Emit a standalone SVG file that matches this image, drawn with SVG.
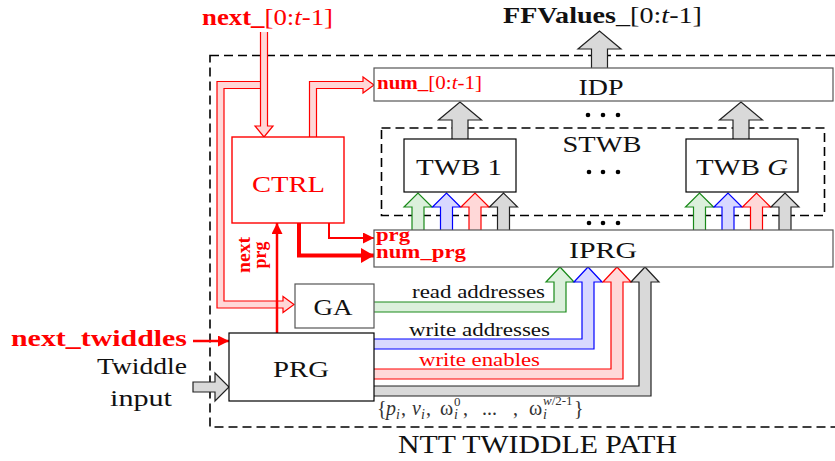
<svg xmlns="http://www.w3.org/2000/svg" width="835" height="461" viewBox="0 0 835 461">
  <style>
    text { font-family: "Liberation Serif", "Times New Roman", serif; fill: #111; }
    .lbl { font-size: 24px; text-anchor: middle; }
    .bus { font-size: 19px; }
    .red { fill: #ff0000; }
    .b { font-weight: bold; }
    .i { font-style: italic; }
    .box { fill: #fff; stroke: #000; stroke-width: 1.2; }
    .gbox { fill: #fff; stroke: #555; stroke-width: 1.2; }
    .rbox { fill: #fff; stroke: #ff0000; stroke-width: 1.4; }
    .dash { fill: none; stroke: #000; stroke-width: 1.6; stroke-dasharray: 9 5; }
    .green { fill: #dcf0dc; stroke: #1a8a1a; stroke-width: 1.2; }
    .blue { fill: #d8d8ff; stroke: #0000ff; stroke-width: 1.2; }
    .pink { fill: #ffd8d8; stroke: #ff0000; stroke-width: 1.2; }
    .grey { fill: #d9d9d9; stroke: #222; stroke-width: 1.2; }
    .wire { fill: none; stroke: #ff0000; }
    .dot { fill: #000; }
    .set { font-size: 20px; fill: #333; }
    .sub { font-size: 14px; font-style: italic; }
    .sup { font-size: 13px; }
  </style>
  <defs>
    <!-- small block arrow, tip at origin, pointing up -->
    <path id="upS" d="M-6,37 V14 H-14 L0,0 L14,14 H6 V37"/>
    <!-- big block arrow, tip at origin, pointing up -->
    <path id="upL" d="M-8,37 V18 H-21.5 L0,0 L21.5,18 H8 V37"/>
    <marker id="ah" markerUnits="userSpaceOnUse" markerWidth="12" markerHeight="12" refX="11" refY="5.5" orient="auto">
      <path d="M0,0 L11,5.5 L0,11 Z" fill="#ff0000"/>
    </marker>
    <marker id="ahBig" markerUnits="userSpaceOnUse" markerWidth="14" markerHeight="16" refX="13" refY="7.5" orient="auto">
      <path d="M0,0 L13,7.5 L0,15 Z" fill="#ff0000"/>
    </marker>
  </defs>

  <!-- enclosing dashed frames -->
  <g id="frames">
    <rect class="dash" x="210" y="55.5" width="640" height="371.5"/>
    <rect class="dash" x="381.5" y="128" width="443" height="87.5"/>
  </g>

  <!-- connectors -->
  <g id="connectors">
    <!-- bus outputs of GA / PRG into IPRG -->
    <path class="green" d="M374,302 H554 V282 H546 L560,267 L574,282 H566 V312 H374"/>
    <path class="blue" d="M374,339 H582 V282 H574 L588,267 L602,282 H594 V349 H374"/>
    <path class="pink" d="M374,369 H611 V282 H603 L617,267 L631,282 H623 V379 H374"/>
    <path class="grey" d="M374,386 H639 V282 H631 L645,267 L659,282 H651 V396 H374"/>

    <!-- IPRG into TWB 1 -->
    <use href="#upS" class="green" x="418" y="193"/>
    <use href="#upS" class="blue" x="446.5" y="193"/>
    <use href="#upS" class="pink" x="475" y="193"/>
    <use href="#upS" class="grey" x="503.5" y="193"/>
    <!-- IPRG into TWB G -->
    <use href="#upS" class="green" x="699.5" y="193"/>
    <use href="#upS" class="blue" x="728" y="193"/>
    <use href="#upS" class="pink" x="756.5" y="193"/>
    <use href="#upS" class="grey" x="785" y="193"/>

    <!-- TWB outputs into IDP, IDP output -->
    <use href="#upL" class="grey" x="460" y="102"/>
    <use href="#upL" class="grey" x="741" y="102"/>
    <use href="#upL" class="grey" x="599.5" y="31"/>

    <!-- next_ split towards GA -->
    <path class="pink" d="M260.5,81.5 H217 V308 H283 V312.5 L294,304.5 L283,296.5 V301 H224 V88.5 H260.5"/>
    <!-- next_ into CTRL -->
    <path class="pink" d="M260.5,32 V126 H255 L264,137 L273,126 H267.5 V32"/>
    <!-- CTRL to IDP -->
    <path class="pink" d="M309.5,137 V81.5 H363 V77 L374,85 L363,93 V88.5 H316.5 V137"/>

    <!-- CTRL control lines into IPRG -->
    <path class="wire" stroke-width="2" d="M329,223 V238 H374" marker-end="url(#ah)"/>
    <path class="wire" stroke-width="4" d="M299,223 V255.5 H374" marker-end="url(#ahBig)"/>
    <!-- PRG to CTRL -->
    <path class="wire" stroke-width="2.5" d="M277,333 V223" marker-end="url(#ah)"/>
    <!-- next_twiddles into PRG -->
    <path class="wire" stroke-width="2.5" d="M193,341 H229" marker-end="url(#ah)"/>

    <!-- twiddle input -->
    <path class="grey" d="M193,382 H215 V373 L229,387 L215,401 V392 H193 Z"/>
  </g>

  <g id="IDP">
    <rect class="gbox" x="374" y="68" width="459" height="33"/>
    <text class="lbl" x="601" y="95" textLength="45" lengthAdjust="spacingAndGlyphs">IDP</text>
  </g>

  <g id="STWB">
    <text class="lbl" x="602" y="152" font-size="25" textLength="79" lengthAdjust="spacingAndGlyphs">STWB</text>
    <circle class="dot" cx="588" cy="115" r="2.3"/>
    <circle class="dot" cx="603" cy="115" r="2.3"/>
    <circle class="dot" cx="618" cy="115" r="2.3"/>
    <circle class="dot" cx="589" cy="172" r="2.3"/>
    <circle class="dot" cx="603" cy="172" r="2.3"/>
    <circle class="dot" cx="618" cy="172" r="2.3"/>
    <circle class="dot" cx="589" cy="223" r="2.3"/>
    <circle class="dot" cx="603" cy="223" r="2.3"/>
    <circle class="dot" cx="618" cy="223" r="2.3"/>
  </g>

  <g id="TWB1">
    <rect class="box" x="404" y="139" width="112" height="53"/>
    <text class="lbl" x="459" y="175" textLength="86" lengthAdjust="spacingAndGlyphs">TWB 1</text>
  </g>

  <g id="TWBG">
    <rect class="box" x="686" y="139" width="112" height="53"/>
    <text class="lbl" x="742" y="175" textLength="92" lengthAdjust="spacingAndGlyphs">TWB <tspan class="i">G</tspan></text>
  </g>

  <g id="CTRL">
    <rect class="rbox" x="232" y="137" width="112" height="86"/>
    <text class="lbl red" x="288.5" y="192" textLength="73" lengthAdjust="spacingAndGlyphs">CTRL</text>
  </g>

  <g id="IPRG">
    <rect class="gbox" x="374" y="230" width="459" height="37"/>
    <text class="lbl" x="603" y="258" textLength="68" lengthAdjust="spacingAndGlyphs">IPRG</text>
  </g>

  <g id="GA">
    <rect class="gbox" x="295" y="284" width="79" height="44"/>
    <text class="lbl" x="333" y="315" textLength="39" lengthAdjust="spacingAndGlyphs">GA</text>
  </g>

  <g id="PRG">
    <rect class="box" x="229" y="333" width="145" height="68"/>
    <text class="lbl" x="301" y="377" textLength="56" lengthAdjust="spacingAndGlyphs">PRG</text>
  </g>

  <!-- signal and bus labels -->
  <g id="labels">
    <text class="red" x="202" y="25" font-size="23" textLength="131" lengthAdjust="spacingAndGlyphs"><tspan class="b">next_</tspan>[0:<tspan class="i">t</tspan>-1]</text>
    <text x="503" y="23" font-size="23" textLength="199" lengthAdjust="spacingAndGlyphs"><tspan class="b">FFValues</tspan>_[0:<tspan class="i">t</tspan>-1]</text>
    <text class="red" x="377" y="89" font-size="19" textLength="105" lengthAdjust="spacingAndGlyphs"><tspan class="b">num_</tspan>[0:<tspan class="i">t</tspan>-1]</text>
    <text class="red b" x="376" y="241" font-size="18" textLength="34" lengthAdjust="spacingAndGlyphs">prg</text>
    <text class="red b" x="376" y="258" font-size="18" textLength="90" lengthAdjust="spacingAndGlyphs">num_prg</text>
    <text class="red b" font-size="18" text-anchor="middle" textLength="36" lengthAdjust="spacingAndGlyphs" transform="translate(250,255) rotate(-90)">next</text>
    <text class="red b" font-size="18" text-anchor="middle" textLength="27" lengthAdjust="spacingAndGlyphs" transform="translate(266,255) rotate(-90)">prg</text>
    <text class="red b" x="11" y="346" font-size="24" textLength="176" lengthAdjust="spacingAndGlyphs">next_twiddles</text>
    <text x="97" y="374" font-size="24" textLength="90" lengthAdjust="spacingAndGlyphs">Twiddle</text>
    <text x="110" y="406" font-size="24" textLength="62" lengthAdjust="spacingAndGlyphs">input</text>
    <text class="bus" x="412" y="298" textLength="133" lengthAdjust="spacingAndGlyphs">read addresses</text>
    <text class="bus" x="409" y="336" textLength="141" lengthAdjust="spacingAndGlyphs">write addresses</text>
    <text class="bus red" x="419" y="366" textLength="121" lengthAdjust="spacingAndGlyphs">write enables</text>
    <text class="set" y="415"><tspan x="377">{</tspan><tspan class="i" x="386">p</tspan><tspan class="sub" x="396" dy="4">i</tspan><tspan x="401" dy="-4">,</tspan><tspan class="i" x="412">v</tspan><tspan class="sub" x="421" dy="4">i</tspan><tspan x="426" dy="-4">,</tspan><tspan x="440">ω</tspan><tspan class="sub" x="454" dy="4">i</tspan><tspan class="sup" x="454" dy="-13">0</tspan><tspan x="463" dy="9">,</tspan><tspan x="482">...</tspan><tspan x="513">,</tspan><tspan x="529">ω</tspan><tspan class="sub" x="543" dy="4">i</tspan><tspan class="sup" x="543" dy="-14"><tspan class="i">w</tspan>/2-1</tspan><tspan x="574" dy="10">}</tspan></text>
    <text x="398" y="453" font-size="25" textLength="279" lengthAdjust="spacingAndGlyphs">NTT TWIDDLE PATH</text>
  </g>
</svg>
